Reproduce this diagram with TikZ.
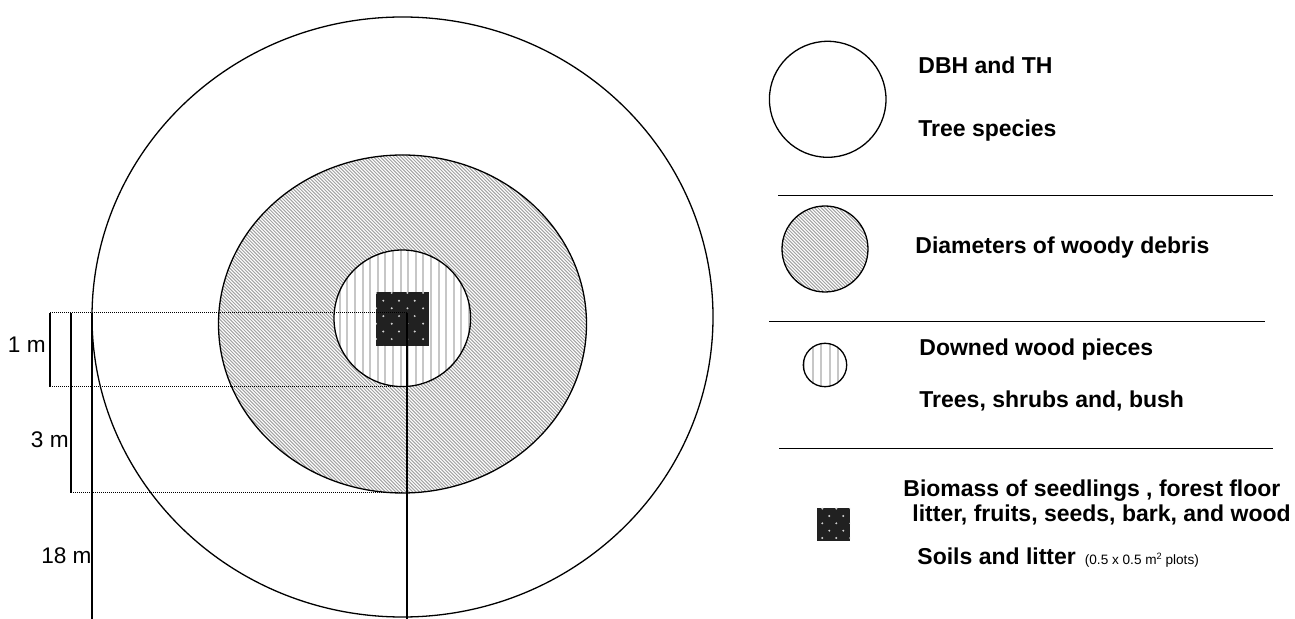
\documentclass[tikz,border=0pt]{standalone}
\usepackage{fontspec}
\setmainfont{Liberation Sans}
\tikzset{
  outline/.style={draw=black,line width=0.65pt},
  hatchline/.style={draw=black!36,line width=0.5pt},
  vstripe/.style={draw=black!22,line width=1pt},
  dimline/.style={draw=black,line width=0.6pt},
  dotline/.style={draw=black,line width=0.5pt,dash pattern=on 0.5pt off 0.5pt},
  sepline/.style={draw=black,line width=0.65pt},
  legtext/.style={inner sep=0pt,anchor=base west,font=\fontsize{11.5}{13}\selectfont\bfseries},
  dimtext/.style={inner sep=0pt,anchor=base east,font=\fontsize{11.3}{13}\selectfont},
  speck/.style={fill=black!18}
}
\begin{document}
\begin{tikzpicture}[x=0.5pt,y=-0.5pt]
\useasboundingbox (0,0) rectangle (1295,619);
% ---------- main plot ----------
\coordinate (C) at (402.5,317);
\coordinate (H) at (402.5,324);
\coordinate (I) at (402.3,318.3);
% outer circle
\fill[white] (C) ellipse [x radius=310.5,y radius=300];
% hatched circle
\begin{scope}
  \clip (H) ellipse [x radius=184,y radius=169];
  \fill[white] (H) ellipse [x radius=184,y radius=169];
  \foreach \c in {-290,-286.6,...,450} {
    \draw[hatchline] (\c+140,140) -- (\c+510,510);
  }
\end{scope}
% inner circle with vertical stripes
\begin{scope}
  \clip (I) ellipse [x radius=68.3,y radius=68.3];
  \fill[white] (I) ellipse [x radius=68.3,y radius=68.3];
  \foreach \x in {332.2,339.8,...,475} {
    \draw[vstripe] (\x,245) -- (\x,392);
  }
\end{scope}
% dark square
\begin{scope}
  \clip (376,292) rectangle (429,346);
  \fill[black!87] (376,292) rectangle (429,346);
  \foreach \i in {-1,...,3} {
    \foreach \j in {-1,...,3} {
      \fill[speck] (383.3+15.7*\i,300.7+15.4*\j) circle [radius=1.1];
      \fill[speck] (391.7+15.7*\i,308.3+15.4*\j) circle [radius=1.1];
    }
  }
\end{scope}
\draw[outline] (C) ellipse [x radius=310.5,y radius=300];
\draw[outline] (H) ellipse [x radius=184,y radius=169];
\draw[outline] (I) ellipse [x radius=68.3,y radius=68.3];
% dimension lines
\coordinate (d1a) at (50,313);   \coordinate (d1b) at (407,313);
\coordinate (d2a) at (50,386.7); \coordinate (d2b) at (402,386.7);
\coordinate (d3a) at (71,492.7); \coordinate (d3b) at (402,492.7);
\draw[dotline] (d1a) -- (d1b);
\draw[dotline] (d2a) -- (d2b);
\draw[dotline] (d3a) -- (d3b);
\coordinate (v1t) at (50,313); \coordinate (v1b) at (50,386.7);
\coordinate (v2t) at (71,313); \coordinate (v2b) at (71,492.7);
\coordinate (v3t) at (92,313); \coordinate (v3b) at (92,619);
\coordinate (v4t) at (407,313); \coordinate (v4b) at (407,619);
\draw[dimline] (v1t) -- (v1b);
\draw[dimline] (v2t) -- (v2b);
\draw[dimline] (v3t) -- (v3b);
\draw[dimline] (v4t) -- (v4b);
\node[dimtext] (l1) at (46,352.7) {1 m};
\node[dimtext] (l3) at (69,447.7) {3 m};
\node[dimtext] (l18) at (92,564) {18 m};
% ---------- legend ----------
\draw[outline] (827.7,99.3) ellipse [x radius=58.3,y radius=58];
\node[legtext] (t1) at (918,74) {DBH and TH};
\node[legtext] (t2) at (918,136.7) {Tree species};
\coordinate (s1a) at (778,195.7); \coordinate (s1b) at (1273,195.7);
\draw[sepline] (s1a) -- (s1b);
\begin{scope}
  \clip (825,249) circle [radius=43];
  \fill[white] (825,249) circle [radius=43];
  \foreach \c in {-130,-126.6,...,120} {
    \draw[hatchline] (\c+760,190) -- (\c+880,310);
  }
\end{scope}
\draw[outline] (825,249) circle [radius=43];
\node[legtext] (t3) at (915,254) {Diameters of woody debris};
\coordinate (s2a) at (769,321.7); \coordinate (s2b) at (1265,321.7);
\draw[sepline] (s2a) -- (s2b);
\begin{scope}
  \clip (825,365) circle [radius=21.7];
  \fill[white] (825,365) circle [radius=21.7];
  \foreach \x in {804,812.5,...,850} {
    \draw[vstripe] (\x,340) -- (\x,390);
  }
\end{scope}
\draw[outline] (825,365) circle [radius=21.7];
\node[legtext] (t4) at (919,355.7) {Downed wood pieces};
\node[legtext] (t5) at (919,407.7) {Trees, shrubs and, bush};
\coordinate (s3a) at (779,448.8); \coordinate (s3b) at (1273,448.8);
\draw[sepline] (s3a) -- (s3b);
\begin{scope}
  \clip (817,508) rectangle (850,541);
  \fill[black!87] (817,508) rectangle (850,541);
  \foreach \i in {-1,...,2} {
    \foreach \j in {-1,...,2} {
      \fill[speck] (829.3+14*\i,516+14.7*\j) circle [radius=1.1];
      \fill[speck] (822.3+14*\i,523.3+14.7*\j) circle [radius=1.1];
    }
  }
\end{scope}
\node[legtext] (t6) at (903,496.7) {Biomass of seedlings , forest floor};
\node[legtext] (t7) at (912,521.7) {litter, fruits, seeds, bark, and wood};
\node[legtext] (t8) at (917,564.3) {Soils and litter\hspace{4.5pt}{\fontsize{6.8}{7}\selectfont\mdseries (0.5 x 0.5 m\raisebox{0.33em}{\fontsize{4.6}{5}\selectfont 2} plots)}};
\end{tikzpicture}
\end{document}
